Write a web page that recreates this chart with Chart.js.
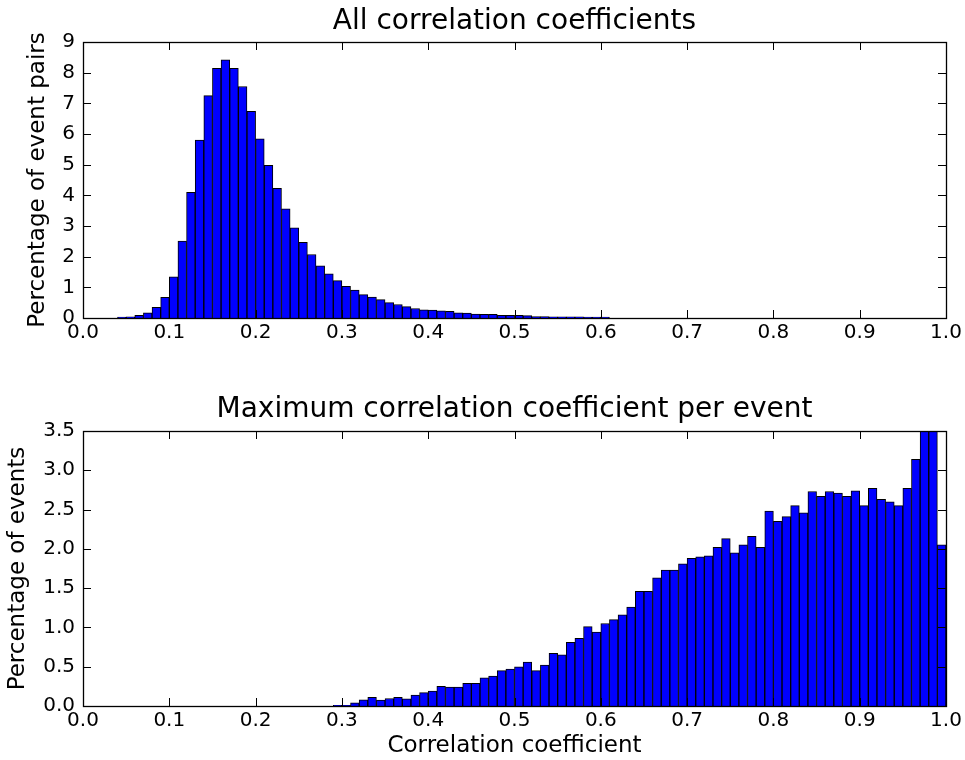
<!DOCTYPE html>
<html>
<head>
<meta charset="utf-8">
<script src="https://cdn.jsdelivr.net/npm/chart.js@4"></script>
<style>
  html, body { margin: 0; padding: 0; background: #fff; }
  #wrap { position: relative; width: 965px; height: 760px; }
  #top { position: absolute; left: 0; top: 0; }
  #bottom { position: absolute; left: 0; top: 360px; }
</style>
</head>
<body>
<div id="wrap">
  <canvas id="top" width="965" height="360"></canvas>
  <canvas id="bottom" width="965" height="400"></canvas>
</div>
<script>
// histogram bins: 100 bins of width 0.01 from 0.0 to 1.0
const binWidth = 0.01;
const xTickLabels = ['0.0', '0.1', '0.2', '0.3', '0.4', '0.5', '0.6', '0.7', '0.8', '0.9', '1.0'];

// percentage of event pairs per bin (all correlation coefficients)
const allCorr = [
  0, 0, 0, 0, 0.03, 0.04, 0.09, 0.17, 0.35, 0.67,
  1.34, 2.51, 4.10, 5.80, 7.25, 8.14, 8.42, 8.14, 7.55, 6.74,
  5.84, 4.98, 4.23, 3.56, 2.94, 2.47, 2.07, 1.70, 1.44, 1.22,
  1.03, 0.91, 0.76, 0.68, 0.60, 0.50, 0.44, 0.37, 0.31, 0.27,
  0.26, 0.23, 0.22, 0.17, 0.16, 0.13, 0.12, 0.12, 0.09, 0.09,
  0.09, 0.08, 0.05, 0.05, 0.04, 0.04, 0.04, 0.04, 0.03, 0.03,
  0.03, 0, 0, 0, 0, 0, 0, 0, 0, 0,
  0, 0, 0, 0, 0, 0, 0, 0, 0, 0,
  0, 0, 0, 0, 0, 0, 0, 0, 0, 0,
  0, 0, 0, 0, 0, 0, 0, 0, 0, 0
];

// percentage of events per bin (maximum correlation coefficient per event)
const maxCorr = [
  0, 0, 0, 0, 0, 0, 0, 0, 0, 0,
  0, 0, 0, 0, 0, 0, 0, 0, 0, 0,
  0, 0, 0, 0, 0, 0, 0, 0, 0, 0.01,
  0.01, 0.04, 0.08, 0.11, 0.075, 0.095, 0.11, 0.09, 0.14, 0.17,
  0.19, 0.25, 0.24, 0.24, 0.29, 0.29, 0.36, 0.38, 0.45, 0.47,
  0.50, 0.56, 0.45, 0.52, 0.67, 0.65, 0.81, 0.86, 1.01, 0.94,
  1.05, 1.10, 1.16, 1.26, 1.46, 1.46, 1.63, 1.73, 1.73, 1.81,
  1.88, 1.90, 1.91, 2.02, 2.13, 1.95, 2.05, 2.16, 2.02, 2.48,
  2.35, 2.41, 2.55, 2.46, 2.73, 2.67, 2.73, 2.71, 2.67, 2.74,
  2.55, 2.77, 2.63, 2.60, 2.55, 2.77, 3.14, 3.90, 3.90, 2.05
];

Chart.defaults.font.family = '"DejaVu Sans", sans-serif';
Chart.defaults.color = '#000';

// matplotlib-like box with inward ticks on all sides, title centred over the axes
const frame = {
  id: 'frame',
  afterDatasetsDraw(chart, args, opts) {
    const {ctx, chartArea: a, scales: {x, y}} = chart;
    ctx.save();
    ctx.strokeStyle = '#000';
    ctx.lineWidth = 1;
    ctx.beginPath();
    x.ticks.forEach(t => {
      const px = Math.round(x.getPixelForValue(t.value)) + 0.5;
      ctx.moveTo(px, a.bottom); ctx.lineTo(px, a.bottom - 8);
      ctx.moveTo(px, a.top); ctx.lineTo(px, a.top + 8);
    });
    y.ticks.forEach(t => {
      const py = Math.round(y.getPixelForValue(t.value)) + 0.5;
      ctx.moveTo(a.left, py); ctx.lineTo(a.left + 8, py);
      ctx.moveTo(a.right, py); ctx.lineTo(a.right - 8, py);
    });
    ctx.stroke();
    ctx.lineWidth = 1.3;
    ctx.strokeRect(Math.round(a.left) + 0.5, Math.round(a.top) + 0.5,
      Math.round(a.right - a.left), Math.round(a.bottom - a.top));

    ctx.fillStyle = '#000';
    ctx.font = '28px "DejaVu Sans", sans-serif';
    ctx.textAlign = 'center';
    ctx.textBaseline = 'middle';
    ctx.fillText(opts.text, (a.left + a.right) / 2, opts.y);
    ctx.restore();
  }
};

function makeHist(canvas, values, opts) {
  const points = values.map((v, i) => ({x: (i + 0.5) * binWidth, y: v}));
  return new Chart(canvas, {
    type: 'bar',
    data: {
      datasets: [{
        data: points,
        backgroundColor: '#0000ff',
        borderColor: '#000',
        borderWidth: 1,
        categoryPercentage: 1.0,
        barPercentage: 1.0,
      }]
    },
    options: {
      responsive: false,
      animation: false,
      devicePixelRatio: 1,
      layout: {padding: {left: 0, right: 19, top: opts.topPad, bottom: 0}},
      plugins: {
        legend: {display: false},
        tooltip: {enabled: false},
        title: {display: false},
        frame: {text: opts.title, y: opts.titleY},
      },
      scales: {
        x: {
          type: 'linear',
          min: 0,
          max: 1,
          offset: false,
          grid: {display: false, drawTicks: false},
          border: {display: false},
          ticks: {
            stepSize: 0.1,
            font: {size: 20},
            padding: 3,
            maxRotation: 0,
            callback: (v, i) => xTickLabels[i],
          },
          title: {
            display: !!opts.xTitle,
            text: opts.xTitle || '',
            font: {size: 23},
            padding: {top: 0, bottom: 0.2},
          },
          afterFit: s => { s.height = opts.xHeight; },
        },
        y: {
          min: 0,
          max: opts.yMax,
          grid: {display: false, drawTicks: false},
          border: {display: false},
          ticks: {
            stepSize: opts.yStep,
            font: {size: 20},
            padding: 8,
            callback: opts.yFmt,
          },
          title: {
            display: true,
            text: opts.yTitle,
            font: {size: 23},
            padding: {top: opts.yTitleOffset, bottom: 0},
          },
          afterFit: s => { s.width = 83; },
        },
      },
    },
    plugins: [frame],
  });
}

makeHist(document.getElementById('top'), allCorr, {
  title: 'All correlation coefficients',
  titleY: 22,
  topPad: 42,
  yTitle: 'Percentage of event pairs',
  yTitleOffset: 24.7,
  yMax: 9,
  yStep: 1,
  yFmt: v => String(v),
  xHeight: 42,
});

makeHist(document.getElementById('bottom'), maxCorr, {
  title: 'Maximum correlation coefficient per event',
  titleY: 50,
  topPad: 71,
  yTitle: 'Percentage of events',
  yTitleOffset: 4.7,
  yMax: 3.5,
  yStep: 0.5,
  yFmt: v => v.toFixed(1),
  xTitle: 'Correlation coefficient',
  xHeight: 54,
});
</script>
</body>
</html>
